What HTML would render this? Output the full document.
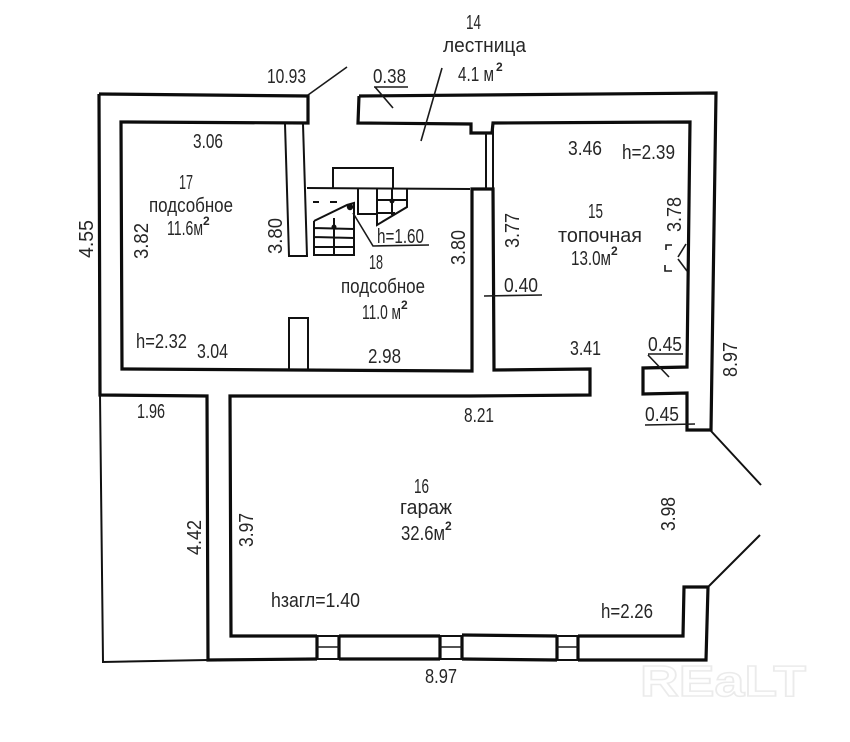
<!DOCTYPE html>
<html>
<head>
<meta charset="utf-8">
<style>
html,body{margin:0;padding:0;background:#fff}
svg{display:block}
text{font-family:"Liberation Sans",sans-serif;font-size:20px;fill:#262626}
.w{fill:none;stroke:#0c0c0c;stroke-width:3.2;stroke-linejoin:miter}
.m{fill:none;stroke:#111;stroke-width:2}
.t{fill:none;stroke:#1a1a1a;stroke-width:1.6}
.s{font-size:12px;font-weight:bold}
</style>
</head>
<body>
<svg width="850" height="742" viewBox="0 0 850 742" xmlns="http://www.w3.org/2000/svg">
<rect width="850" height="742" fill="#fff"/>

<!-- watermark -->
<text x="640" y="696" textLength="166" lengthAdjust="spacingAndGlyphs" style="font-size:44px;font-weight:bold;fill:#fff;stroke:#ebebeb;stroke-width:1.5">REaLT</text>

<!-- main walls -->
<path class="w" d="M99,94 L308,96 L308,123 L121,122 L122,369 L472,371 L472,189 L493,189 L494,370 L589,369 L590,369 L590,395 L470,396 L230,396 L231,636 L317,636"/>
<path class="w" d="M339,636 L440,636 M462,635 L557,636 M578,636 L683,636 L684,587 L708,587 L706,660 L578,660 M557,660 L462,659 M440,659 L339,659 M317,659 L208,660 L207,396 L100,395 L99,94"/>
<path class="w" d="M359,96 L358,123 L471,124 L471,133 L492,133 L493,123 L690,122 L687,367 L643,368 L643,394 L687,393 L687,430 L711,430 L716,93 L359,96"/>

<!-- windows -->
<path class="w" d="M317,636 V659 M339,636 V659 M440,636 V659 M462,635 V659 M557,636 V660 M578,636 V660"/>
<path class="m" d="M317,636 H339 M440,636 H462 M557,636 H578 M317,659 H339 M440,659 H462 M557,660 H578"/>
<path class="t" d="M317,647 H339 M440,647 H462 M557,647 H578"/>

<!-- annex thin lines -->
<path class="m" d="M100,395 L103,662 L208,660"/>

<!-- partition pillars -->
<path class="m" d="M285,124 L289,256 L307,256 L303,124"/>
<path class="m" d="M289,370 V318 H308 V370"/>
<path class="m" d="M307,188 L470,189"/>
<path class="m" d="M486,133 V189 M493,123 V189"/>

<!-- stairs upper -->
<path class="m" d="M333,188 V168 H393 V189"/>
<path class="m" d="M358,189 V214 H377 M377,189 V225 L407,207 V189 M377,200 H407 M377,213 H395 M392,189 V215"/>
<circle cx="392" cy="201" r="2.5" fill="#111"/>

<!-- stairs lower -->
<path class="m" d="M314,221 V255 H354 V213 L354,203 L347,205 L314,221 M314,228 L354,229 M314,237 L354,238 M314,247 L354,247 M334,218 V255"/>
<circle cx="334" cy="227" r="2.5" fill="#111"/>
<circle cx="350" cy="207" r="3.2" fill="#111"/>
<path class="m" d="M313,202 H319 M330,202 H337"/>
<path class="t" d="M353,213 L373,246 L429,245"/>

<!-- leaders -->
<path class="t" d="M308,95 L347,67"/>
<path class="t" d="M374,87 H408 M375,87 L393,108"/>
<path class="t" d="M442,68 L421,141"/>
<path class="t" d="M484,296 L542,295"/>
<path class="t" d="M648,354 H683 M648,355 L669,377"/>
<path class="t" d="M645,425 L695,424"/>
<path class="m" d="M711,431 L761,485 M709,586 L760,535"/>

<!-- small mark -->
<path class="t" d="M672,245 H666 V250 M665,265 V271 H672 M686,244 L678,257 M678,259 L687,271"/>

<!-- labels -->
<text x="466" y="29" textLength="15" lengthAdjust="spacingAndGlyphs">14</text>
<text x="443" y="52" textLength="83" lengthAdjust="spacingAndGlyphs">лестница</text>
<text x="458" y="81" textLength="36" lengthAdjust="spacingAndGlyphs">4.1 м</text>
<text class="s" x="496" y="71">2</text>
<text x="267" y="83" textLength="39" lengthAdjust="spacingAndGlyphs">10.93</text>
<text x="373" y="83" textLength="33" lengthAdjust="spacingAndGlyphs">0.38</text>
<text x="193" y="148" textLength="30" lengthAdjust="spacingAndGlyphs">3.06</text>
<text x="179" y="189" textLength="14" lengthAdjust="spacingAndGlyphs">17</text>
<text x="149" y="212" textLength="84" lengthAdjust="spacingAndGlyphs">подсобное</text>
<text x="167" y="235" textLength="36" lengthAdjust="spacingAndGlyphs">11.6м</text>
<text class="s" x="203" y="225">2</text>
<text x="377" y="243" textLength="47" lengthAdjust="spacingAndGlyphs">h=1.60</text>
<text x="369" y="269" textLength="14" lengthAdjust="spacingAndGlyphs">18</text>
<text x="341" y="293" textLength="84" lengthAdjust="spacingAndGlyphs">подсобное</text>
<text x="362" y="319" textLength="39" lengthAdjust="spacingAndGlyphs">11.0 м</text>
<text class="s" x="401" y="309">2</text>
<text x="136" y="348" textLength="51" lengthAdjust="spacingAndGlyphs">h=2.32</text>
<text x="197" y="358" textLength="31" lengthAdjust="spacingAndGlyphs">3.04</text>
<text x="368" y="363" textLength="33" lengthAdjust="spacingAndGlyphs">2.98</text>
<text x="568" y="155" textLength="34" lengthAdjust="spacingAndGlyphs">3.46</text>
<text x="622" y="159" textLength="53" lengthAdjust="spacingAndGlyphs">h=2.39</text>
<text x="588" y="218" textLength="15" lengthAdjust="spacingAndGlyphs">15</text>
<text x="558" y="242" textLength="84" lengthAdjust="spacingAndGlyphs">топочная</text>
<text x="571" y="265" textLength="40" lengthAdjust="spacingAndGlyphs">13.0м</text>
<text class="s" x="611" y="255">2</text>
<text x="504" y="292" textLength="34" lengthAdjust="spacingAndGlyphs">0.40</text>
<text x="570" y="355" textLength="31" lengthAdjust="spacingAndGlyphs">3.41</text>
<text x="648" y="351" textLength="34" lengthAdjust="spacingAndGlyphs">0.45</text>
<text x="645" y="421" textLength="34" lengthAdjust="spacingAndGlyphs">0.45</text>
<text x="464" y="422" textLength="30" lengthAdjust="spacingAndGlyphs">8.21</text>
<text x="137" y="418" textLength="28" lengthAdjust="spacingAndGlyphs">1.96</text>
<text x="414" y="493" textLength="15" lengthAdjust="spacingAndGlyphs">16</text>
<text x="400" y="514" textLength="52" lengthAdjust="spacingAndGlyphs">гараж</text>
<text x="401" y="540" textLength="44" lengthAdjust="spacingAndGlyphs">32.6м</text>
<text class="s" x="445" y="530">2</text>
<text x="271" y="607" textLength="89" lengthAdjust="spacingAndGlyphs">hзагл=1.40</text>
<text x="425" y="683" textLength="32" lengthAdjust="spacingAndGlyphs">8.97</text>
<text x="601" y="618" textLength="52" lengthAdjust="spacingAndGlyphs">h=2.26</text>

<!-- rotated labels -->
<text transform="translate(93,258) rotate(-90)" textLength="38" lengthAdjust="spacingAndGlyphs">4.55</text>
<text transform="translate(148,259) rotate(-90)" textLength="36" lengthAdjust="spacingAndGlyphs">3.82</text>
<text transform="translate(282,254) rotate(-90)" textLength="36" lengthAdjust="spacingAndGlyphs">3.80</text>
<text transform="translate(465,265) rotate(-90)" textLength="35" lengthAdjust="spacingAndGlyphs">3.80</text>
<text transform="translate(519,248) rotate(-90)" textLength="35" lengthAdjust="spacingAndGlyphs">3.77</text>
<text transform="translate(681,232) rotate(-90)" textLength="35" lengthAdjust="spacingAndGlyphs">3.78</text>
<text transform="translate(737,377) rotate(-90)" textLength="35" lengthAdjust="spacingAndGlyphs">8.97</text>
<text transform="translate(201,555) rotate(-90)" textLength="35" lengthAdjust="spacingAndGlyphs">4.42</text>
<text transform="translate(253,547) rotate(-90)" textLength="34" lengthAdjust="spacingAndGlyphs">3.97</text>
<text transform="translate(675,531) rotate(-90)" textLength="34" lengthAdjust="spacingAndGlyphs">3.98</text>
</svg>
</body>
</html>
